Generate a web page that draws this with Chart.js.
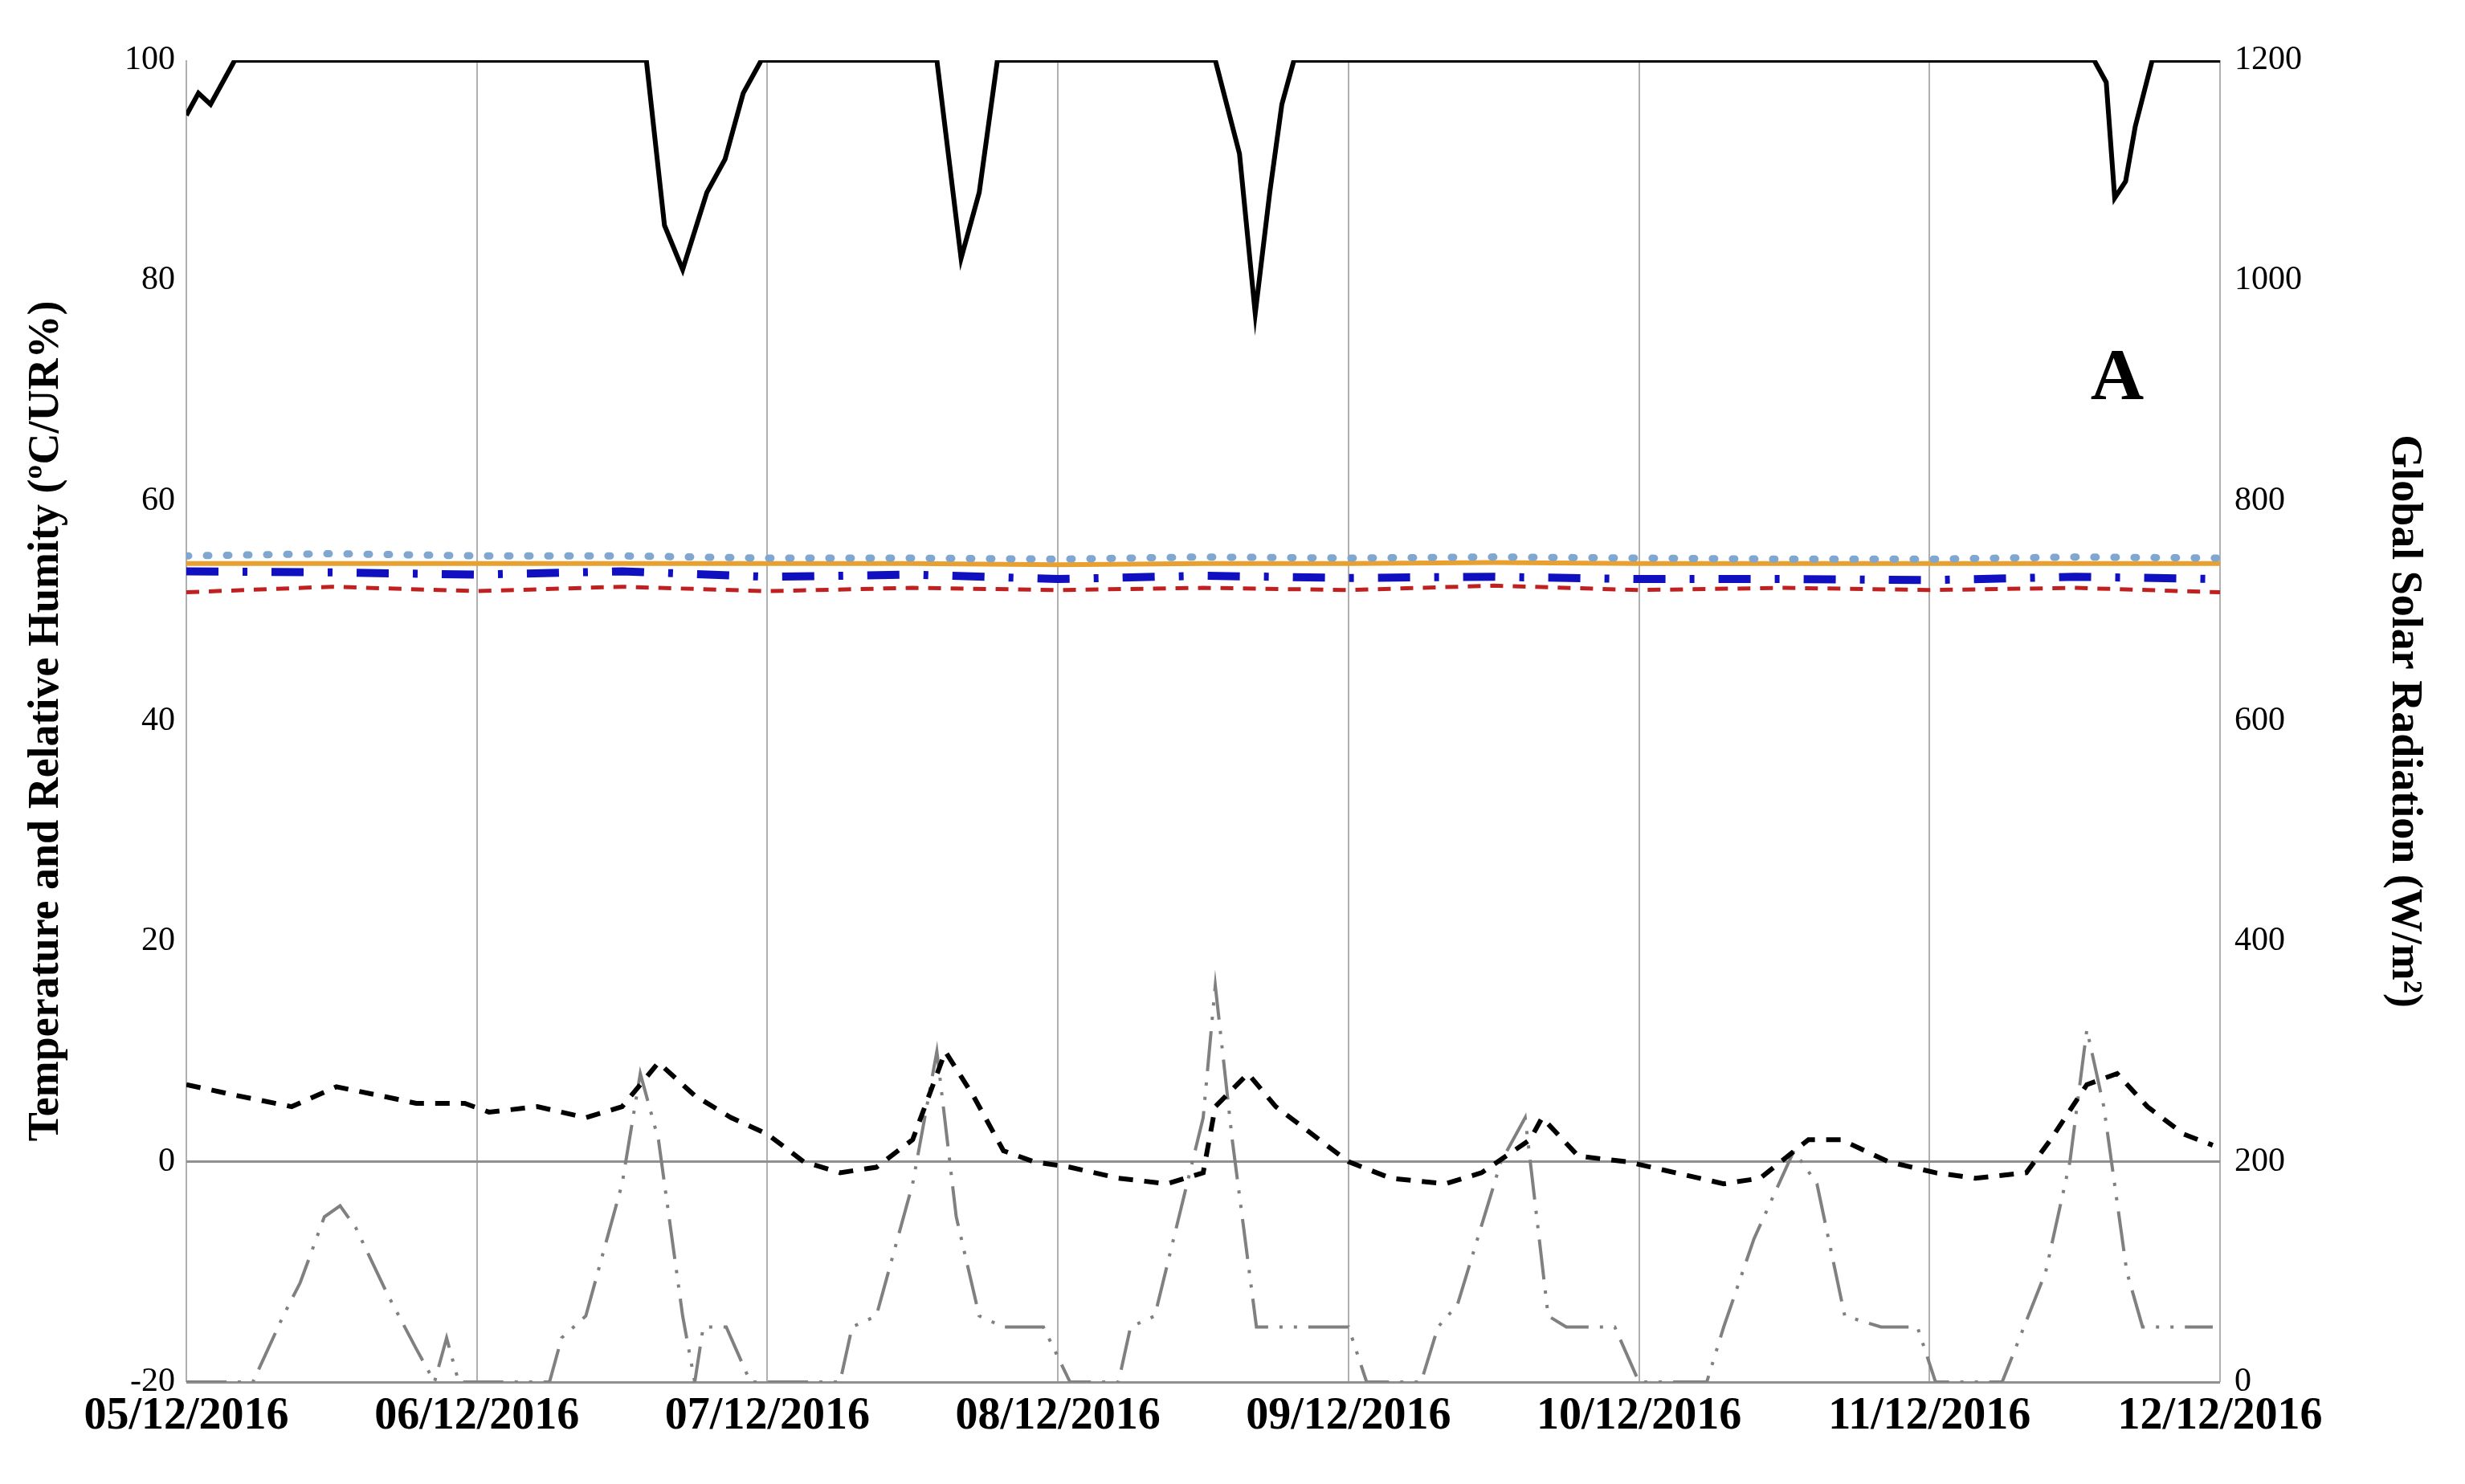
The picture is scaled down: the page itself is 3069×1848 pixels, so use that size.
<!DOCTYPE html>
<html><head><meta charset="utf-8">
<script src="https://cdn.jsdelivr.net/npm/chart.js@4"></script>
<style>html,body{margin:0;background:#fff}#wrap{width:3069px;height:1848px}</style>
</head><body><div id="wrap"><canvas id="c"></canvas></div>
<script>
const dateLabels = ["05/12/2016","06/12/2016","07/12/2016","08/12/2016","09/12/2016","10/12/2016","11/12/2016","12/12/2016"];

// humidity (%), hours from 05/12 00:00
const humHours = [0,1,2,4,38,39.5,41,43,44.5,46,47.5,62,63,64,65.5,67,85,87,88.3,89.5,90.5,91.5,157.6,158.6,159.3,160.2,161,162.4,168];
const humVals  = [95,97,96,100,100,85,81,88,91,97,100,100,91,82,88,100,100,91.5,77,88,96,100,100,98,87.5,89,94,100,100];

// near-constant series
const flatHours = [0,12,24,36,48,60,72,84,96,108,120,132,144,156,168];
const seriesOrange = [54.3,54.3,54.3,54.3,54.3,54.3,54.2,54.3,54.3,54.4,54.3,54.3,54.3,54.3,54.3];
const seriesLightBlue = [55,55.2,55,55,54.8,54.8,54.7,54.9,54.8,54.9,54.8,54.7,54.7,54.9,54.8];
const seriesBlue = [53.6,53.5,53.3,53.6,53.1,53.3,52.9,53.2,53.0,53.1,52.9,52.9,52.8,53.1,52.9];
const seriesRed = [51.7,52.2,51.8,52.2,51.8,52.1,51.9,52.1,51.9,52.3,51.9,52.1,51.9,52.1,51.7];

// air temperature (ºC)
const tempHours = [0,4.2,8.7,12.4,16,19,23,25,29,33,36,39,42,45,48,51,54,57,60,62.7,65,67.5,70,73,77,81,84,85,87.7,90,93.6,96,99.5,104,107,111,112,115,119,123,127,130,134,136.7,140.6,144.5,147.8,152,154,157,159.5,162,165,167.4];
const tempVals  = [7,6,5,6.8,6,5.3,5.3,4.5,5,4,5,9,6,4,2.5,0,-1,-0.5,2,10,6,1,0,-0.5,-1.5,-2,-1,5,8,5,2,0,-1.5,-2,-1,2,4,0.5,0,-1,-2,-1.5,2,2,0,-1,-1.5,-1,2,7,8,5,2.5,1.5];

// global solar radiation (W/m2)
const solHours = [0,5.5,8,9.4,11.4,12.7,14,16.6,19,20.5,21.5,22.5,23.5,30,31,33,36,37.5,39,41,42,42.7,44.6,46.6,54,55,57,60,62,63.6,65.5,67.5,70.8,73,77,78,80,84,85,86.4,88.4,91.6,96,97.5,102,103.4,105,108.6,110.6,112.5,114,118,120,125.6,127,129.5,132.8,134.7,137,140,143,144.5,150,153.6,155.6,157,158.4,160.3,161.6,167.4];
const solVals  = [0,0,60,90,150,160,140,80,30,0,40,0,0,0,40,60,180,280,220,60,0,50,50,0,0,50,60,180,300,150,60,50,50,0,0,50,60,240,360,220,50,50,50,0,0,50,70,200,240,60,50,50,0,0,50,130,210,180,60,50,50,0,0,100,200,320,250,100,50,50];

const pts = (h, v) => h.map((x, i) => ({x, y: v[i]}));
const base = {pointRadius: 0, fill: false, tension: 0, yAxisID: 'y'};

const letterPlugin = {
  id: 'letter',
  afterDatasetsDraw(chart) {
    const {ctx, scales} = chart;
    ctx.save();
    ctx.font = 'bold 92px "Liberation Serif"';
    ctx.fillStyle = '#000';
    ctx.textAlign = 'center';
    ctx.textBaseline = 'middle';
    ctx.fillText('A', scales.x.getPixelForValue(159.5), scales.y.getPixelForValue(71));
    ctx.restore();
  }
};

new Chart(document.getElementById('c'), {
  type: 'line',
  data: {
    datasets: [
      {...base, data: pts(humHours, humVals), borderColor: '#000', borderWidth: 6},
      {...base, data: pts(flatHours, seriesLightBlue), borderColor: '#7fa7d0', borderWidth: 9, borderDash: [3, 22], borderCapStyle: 'round'},
      {...base, data: pts(flatHours, seriesOrange), borderColor: '#e8a030', borderWidth: 6},
      {...base, data: pts(flatHours, seriesBlue), borderColor: '#1010c0', borderWidth: 10, borderDash: [40, 30, 6, 30]},
      {...base, data: pts(flatHours, seriesRed), borderColor: '#c02020', borderWidth: 5, borderDash: [16, 12]},
      {...base, data: pts(tempHours, tempVals), borderColor: '#000', borderWidth: 6, borderDash: [18, 14]},
      {...base, data: pts(solHours, solVals), yAxisID: 'y2', borderColor: '#808080', borderWidth: 4, borderDash: [50, 14, 4, 14, 4, 14]},
    ]
  },
  options: {
    responsive: true, maintainAspectRatio: false, animation: false,
    layout: {padding: {top: 75, right: 40, left: 22, bottom: 0}},
    plugins: {legend: {display: false}, tooltip: {enabled: false}},
    scales: {
      x: {
        type: 'linear', min: 0, max: 168,
        afterFit: s => { s.height = 127; },
        afterBuildTicks: s => { s.ticks = dateLabels.map((_, i) => ({value: i * 24})); },
        ticks: {callback: (v) => dateLabels[v / 24], color: '#000', maxRotation: 0, autoSkip: false, padding: 10,
                font: {family: 'Liberation Serif', size: 56, weight: 'bold'}},
        grid: {color: '#b0b0b0', lineWidth: 2, drawTicks: false},
        border: {display: false}
      },
      y: {
        min: -20, max: 100,
        afterFit: s => { s.width = 210; },
        ticks: {stepSize: 20, color: '#000', padding: 14, font: {family: 'Liberation Serif', size: 42}},
        grid: {color: c => (c.tick.value === 0 || c.tick.value === -20) ? '#909090' : 'rgba(0,0,0,0)', lineWidth: 3, drawTicks: false},
        border: {display: false},
        title: {display: true, text: 'Temperature and Relative Humity (ºC/UR%)', color: '#000', padding: 4,
                font: {family: 'Liberation Serif', size: 54, weight: 'bold'}}
      },
      y2: {
        position: 'right', min: 0, max: 1200,
        afterFit: s => { s.width = 265; },
        ticks: {stepSize: 200, callback: v => String(v), color: '#000', padding: 18, font: {family: 'Liberation Serif', size: 42}},
        grid: {display: false, drawTicks: false},
        border: {display: false},
        title: {display: true, text: 'Global Solar Radiation (W/m²)', color: '#000', padding: 4,
                font: {family: 'Liberation Serif', size: 54, weight: 'bold'}}
      }
    }
  },
  plugins: [letterPlugin]
});
</script></body></html>
